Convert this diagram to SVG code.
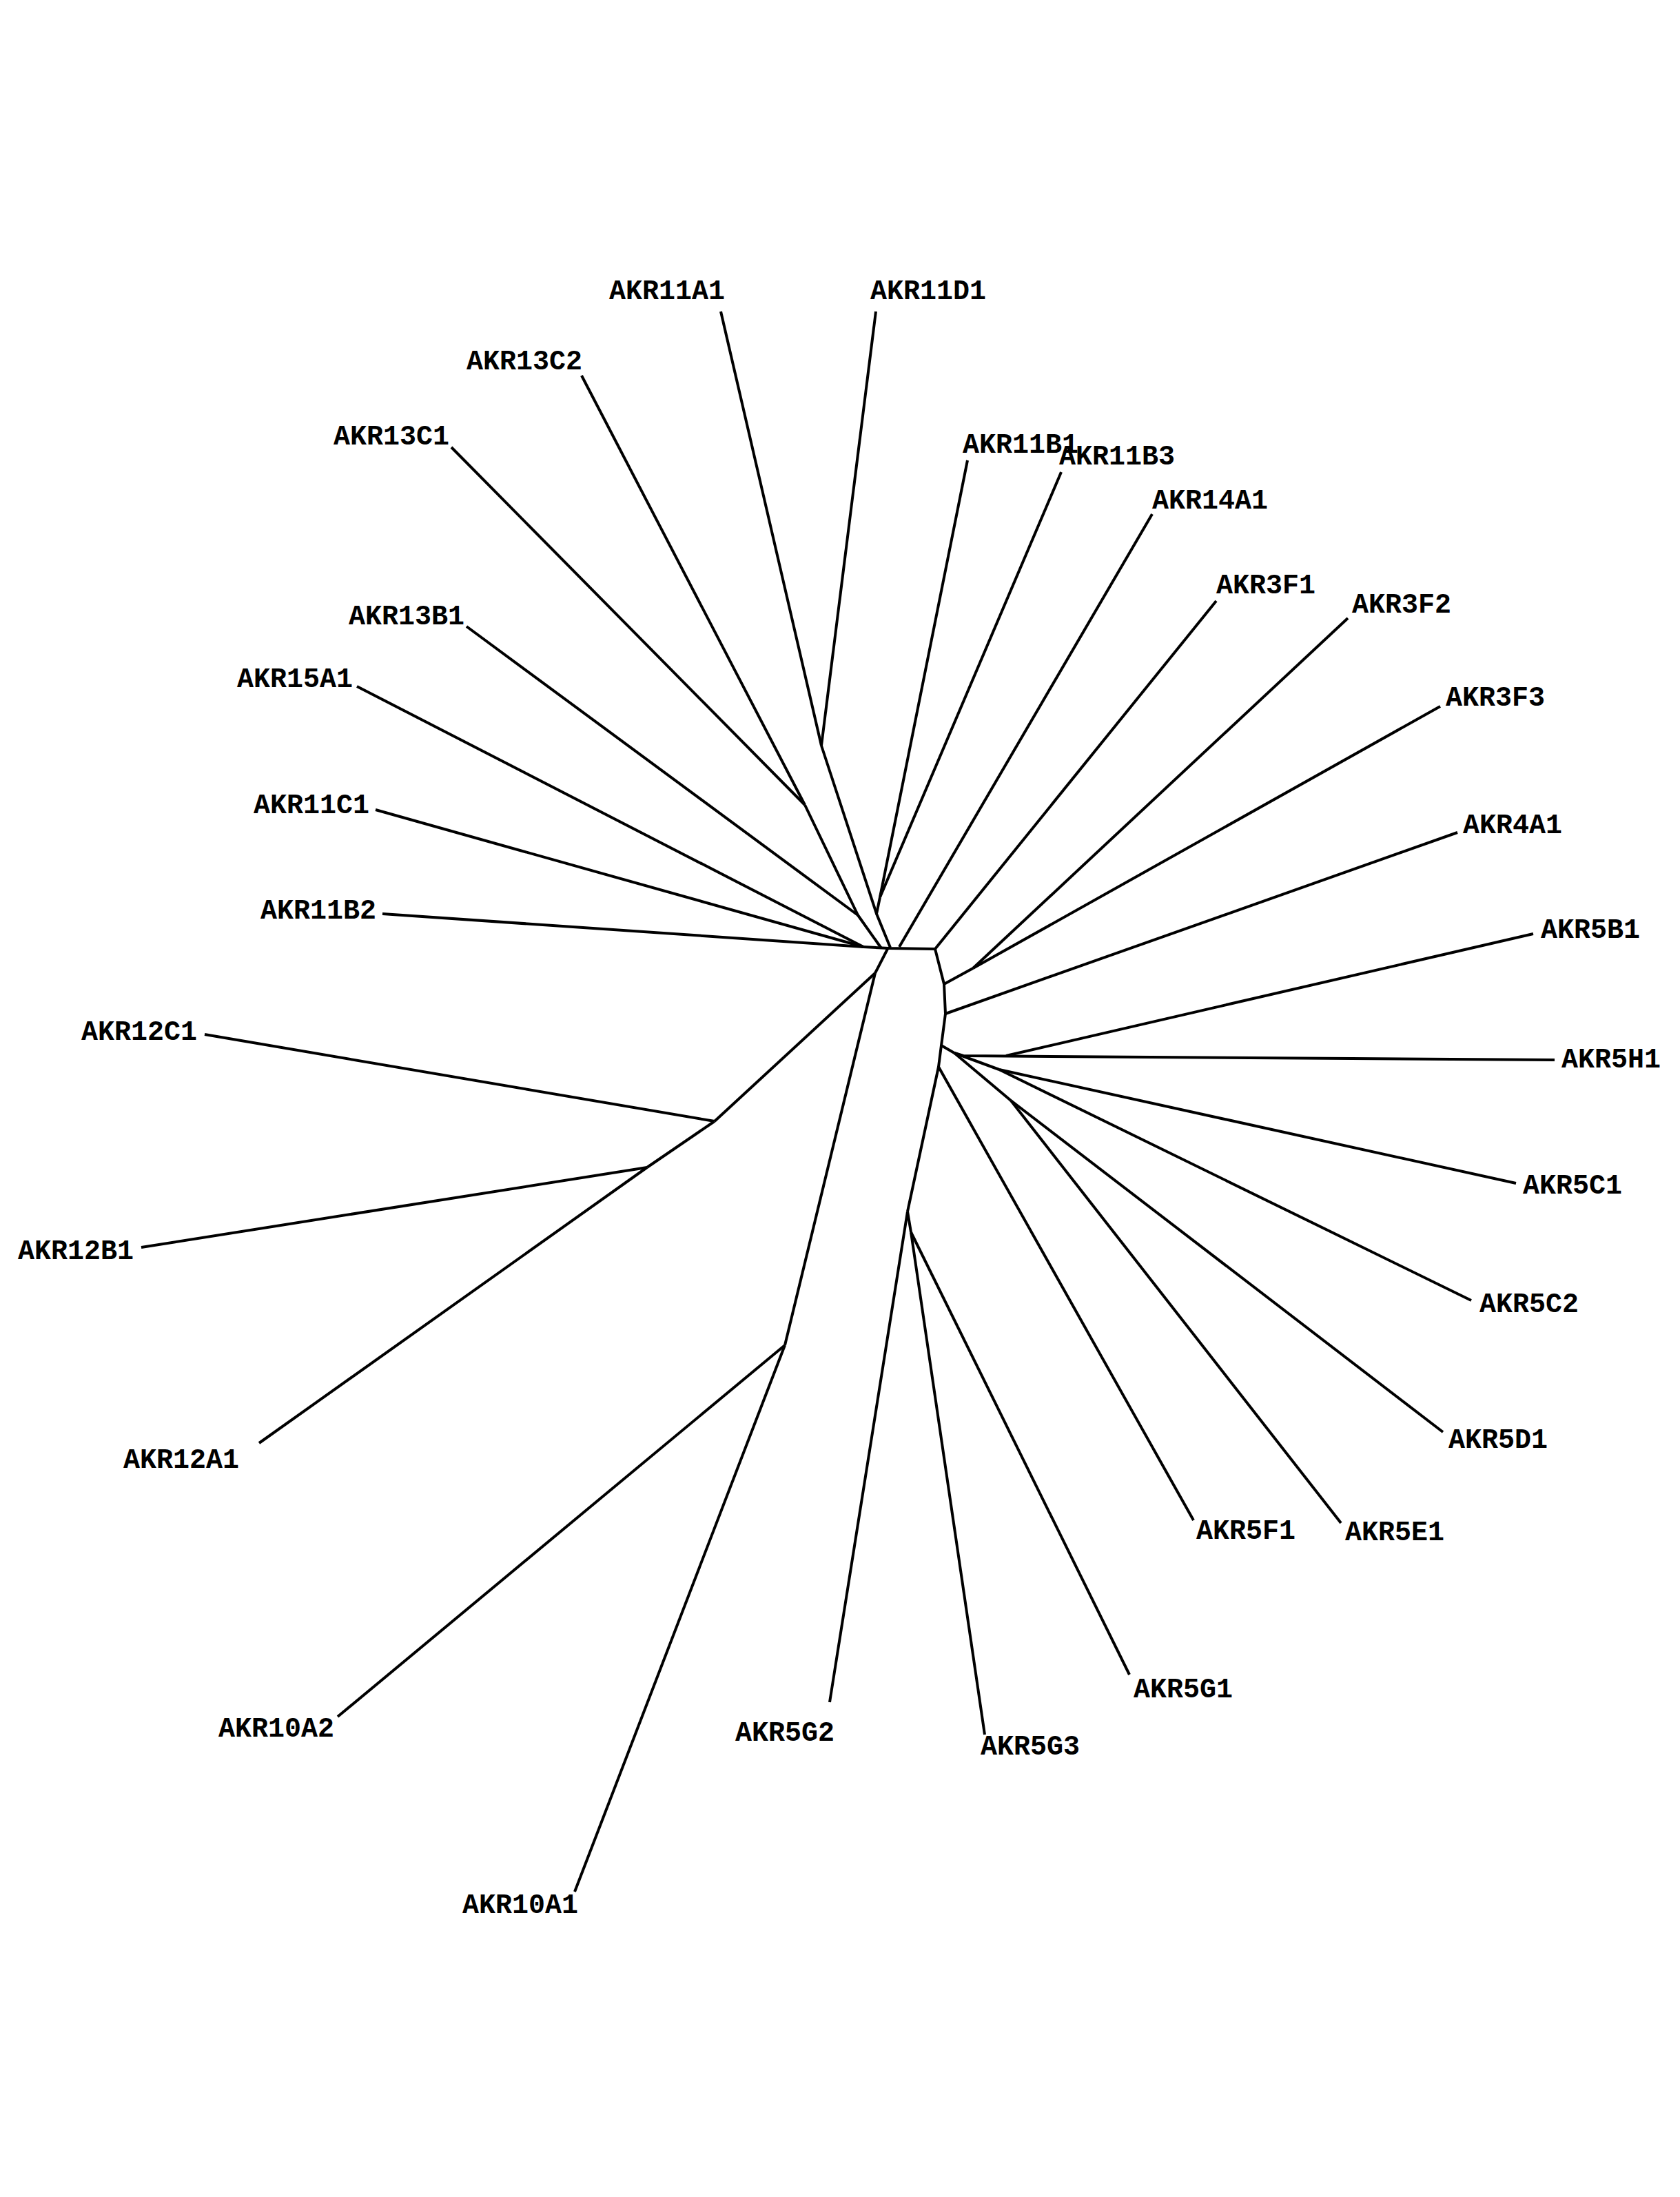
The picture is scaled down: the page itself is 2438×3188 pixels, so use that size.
<svg xmlns="http://www.w3.org/2000/svg" width="2438" height="3188" viewBox="0 0 2438 3188">
  <style>
    .edge { fill: none; stroke: #000; stroke-width: 4; stroke-linejoin: round; stroke-linecap: butt; }
    .leaf text { font-family: "Courier New", "Liberation Mono", monospace; font-size: 40px; font-weight: bold; fill: #000; }
  </style>
  <rect width="2438" height="3188" fill="#fff"/>

  <!-- branches of the unrooted tree -->
  <g id="connectors" class="edge">
    <!-- AKR11 clade -->
    <polyline points="1046,452 1192,1082"/>
    <polyline points="1271,452 1192,1082"/>
    <polyline points="1192,1082 1272,1326"/>
    <polyline points="1404,668 1277,1302"/>
    <polyline points="1540,685 1277,1302"/>
    <polyline points="1277,1302 1272,1326 1292,1375"/>
    <!-- AKR13 clade -->
    <polyline points="844,545 1168,1168"/>
    <polyline points="655,649 1168,1168"/>
    <polyline points="1168,1168 1245,1328 1279,1376"/>
    <polyline points="677,909 1245,1328"/>
    <!-- AKR15A1 / AKR11C1 / AKR11B2 -->
    <polyline points="518,996 1253,1374"/>
    <polyline points="545,1175 1253,1374"/>
    <polyline points="555,1326 1253,1374"/>
    <!-- central spine -->
    <polyline points="1253,1374 1290,1376 1357,1377"/>
    <polyline points="1305,1374 1672,746"/>
    <polyline points="1357,1377 1765,872"/>
    <polyline points="1357,1377 1370,1428 1372,1471 1366,1517 1362,1548 1317,1758"/>
    <!-- AKR3F2 / AKR3F3 -->
    <polyline points="1370,1428 1412,1405"/>
    <polyline points="1412,1405 1956,897"/>
    <polyline points="1412,1405 2090,1025"/>
    <!-- AKR4A1 -->
    <polyline points="1372,1471 2115,1208"/>
    <!-- AKR5 clade -->
    <polyline points="1366,1517 1385,1528"/>
    <polyline points="1385,1528 1398,1532 2256,1538"/>
    <polyline points="1460,1532 2225,1355"/>
    <polyline points="1385,1528 1450,1552"/>
    <polyline points="1450,1552 2200,1717"/>
    <polyline points="1450,1552 2135,1887"/>
    <polyline points="1385,1528 1467,1597"/>
    <polyline points="1467,1597 2094,2078"/>
    <polyline points="1467,1597 1946,2210"/>
    <polyline points="1362,1548 1732,2206"/>
    <!-- AKR5G group -->
    <polyline points="1317,1758 1204,2470"/>
    <polyline points="1317,1758 1322,1788"/>
    <polyline points="1322,1788 1429,2517"/>
    <polyline points="1322,1788 1639,2430"/>
    <!-- AKR12 / AKR10 clades -->
    <polyline points="1288,1377 1270,1412"/>
    <polyline points="1270,1412 1037,1627"/>
    <polyline points="1037,1627 297,1501"/>
    <polyline points="1037,1627 939,1694"/>
    <polyline points="939,1694 205,1810"/>
    <polyline points="939,1694 376,2094"/>
    <polyline points="1270,1412 1139,1952"/>
    <polyline points="1139,1952 490,2491"/>
    <polyline points="1139,1952 834,2745"/>
  </g>

  <!-- leaf labels -->
  <g id="AKR11A1" class="leaf"><text x="884" y="434">AKR11A1</text></g>
  <g id="AKR11D1" class="leaf"><text x="1263" y="434">AKR11D1</text></g>
  <g id="AKR13C2" class="leaf"><text x="677" y="536">AKR13C2</text></g>
  <g id="AKR13C1" class="leaf"><text x="484" y="645">AKR13C1</text></g>
  <g id="AKR11B1" class="leaf"><text x="1397" y="657">AKR11B1</text></g>
  <g id="AKR11B3" class="leaf"><text x="1537" y="674">AKR11B3</text></g>
  <g id="AKR14A1" class="leaf"><text x="1672" y="738">AKR14A1</text></g>
  <g id="AKR3F1" class="leaf"><text x="1765" y="861">AKR3F1</text></g>
  <g id="AKR3F2" class="leaf"><text x="1962" y="889">AKR3F2</text></g>
  <g id="AKR3F3" class="leaf"><text x="2098" y="1024">AKR3F3</text></g>
  <g id="AKR4A1" class="leaf"><text x="2123" y="1209">AKR4A1</text></g>
  <g id="AKR5B1" class="leaf"><text x="2236" y="1361">AKR5B1</text></g>
  <g id="AKR5H1" class="leaf"><text x="2266" y="1549">AKR5H1</text></g>
  <g id="AKR5C1" class="leaf"><text x="2210" y="1732">AKR5C1</text></g>
  <g id="AKR5C2" class="leaf"><text x="2147" y="1904">AKR5C2</text></g>
  <g id="AKR5D1" class="leaf"><text x="2102" y="2101">AKR5D1</text></g>
  <g id="AKR5E1" class="leaf"><text x="1952" y="2235">AKR5E1</text></g>
  <g id="AKR5F1" class="leaf"><text x="1736" y="2233">AKR5F1</text></g>
  <g id="AKR5G1" class="leaf"><text x="1645" y="2463">AKR5G1</text></g>
  <g id="AKR5G3" class="leaf"><text x="1423" y="2546">AKR5G3</text></g>
  <g id="AKR5G2" class="leaf"><text x="1067" y="2526">AKR5G2</text></g>
  <g id="AKR10A1" class="leaf"><text x="671" y="2776">AKR10A1</text></g>
  <g id="AKR10A2" class="leaf"><text x="317" y="2520">AKR10A2</text></g>
  <g id="AKR12A1" class="leaf"><text x="179" y="2130">AKR12A1</text></g>
  <g id="AKR12B1" class="leaf"><text x="26" y="1827">AKR12B1</text></g>
  <g id="AKR12C1" class="leaf"><text x="118" y="1509">AKR12C1</text></g>
  <g id="AKR11B2" class="leaf"><text x="378" y="1333">AKR11B2</text></g>
  <g id="AKR11C1" class="leaf"><text x="368" y="1180">AKR11C1</text></g>
  <g id="AKR15A1" class="leaf"><text x="344" y="997">AKR15A1</text></g>
  <g id="AKR13B1" class="leaf"><text x="506" y="906">AKR13B1</text></g>
</svg>
